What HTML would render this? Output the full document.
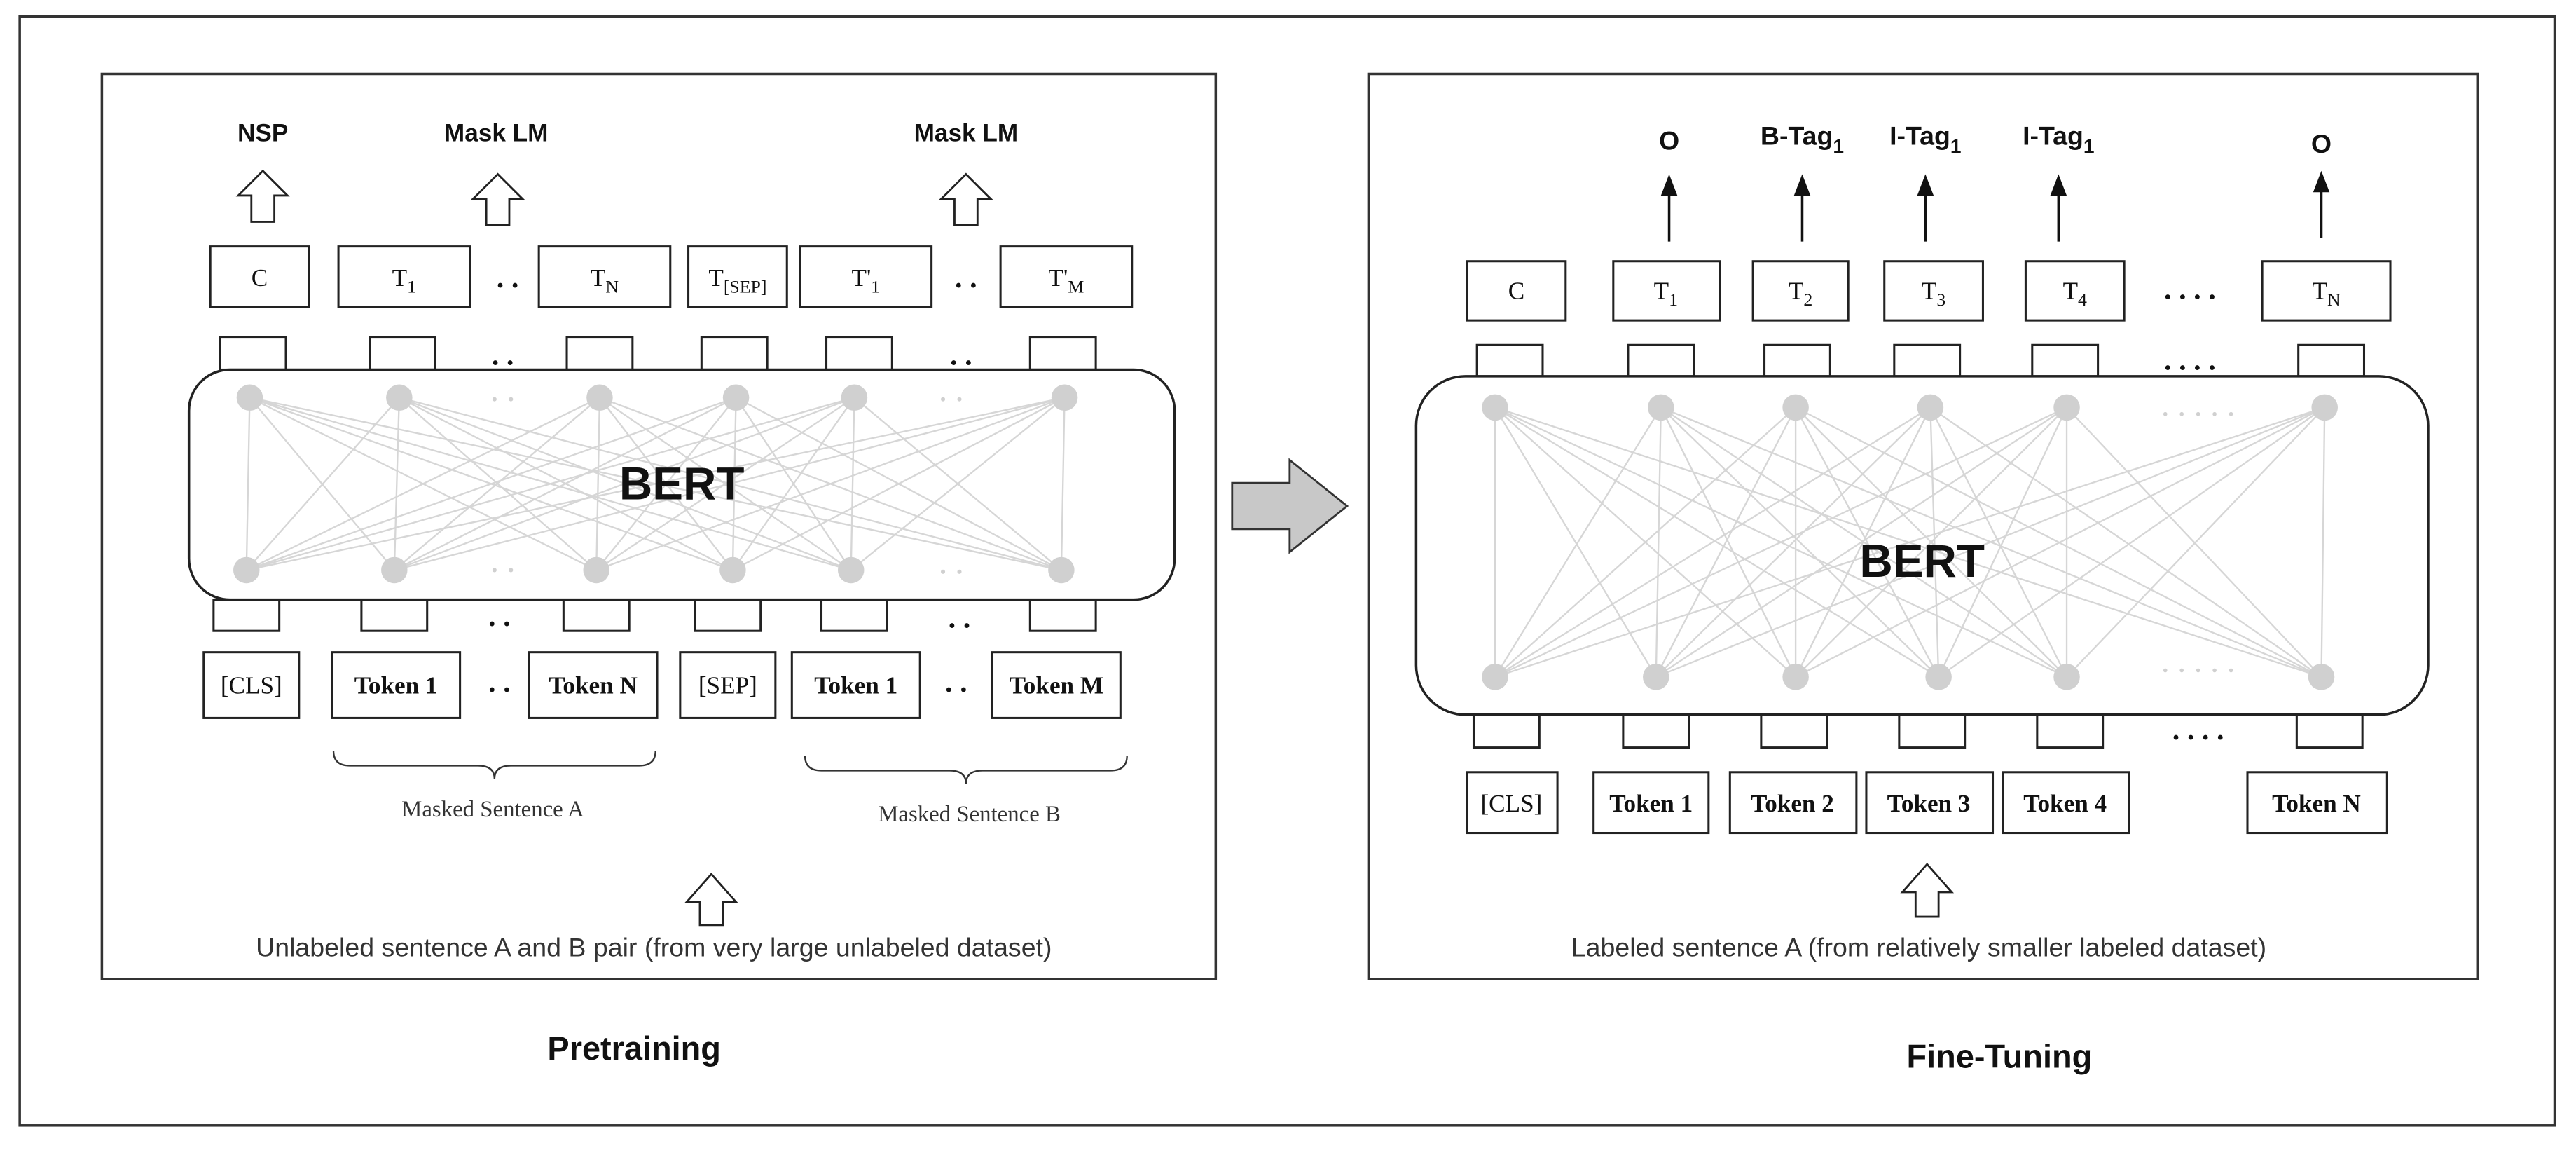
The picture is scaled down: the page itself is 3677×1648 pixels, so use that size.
<!DOCTYPE html>
<html><head><meta charset="utf-8"><style>
html,body{margin:0;padding:0;background:#fff;}
svg{display:block;}
.s{font-family:"Liberation Serif",serif;font-size:15px;fill:#111;}
.b{font-family:"Liberation Sans",sans-serif;font-weight:bold;fill:#111;}
.l{font-family:"Liberation Sans",sans-serif;fill:#333;}
</style></head><body>
<svg width="3677" height="1648" viewBox="0 0 1568 703" preserveAspectRatio="none" xmlns="http://www.w3.org/2000/svg">
<rect x="12" y="10" width="1543" height="675" fill="none" stroke="#333" stroke-width="1.5"/>
<rect x="62" y="45" width="678" height="551" fill="none" stroke="#333" stroke-width="1.5"/>
<rect x="833" y="45" width="675" height="551" fill="none" stroke="#333" stroke-width="1.5"/>
<path d="M750 294 H785 V280 L820 308 L785 336 V322 H750 Z" fill="#c8c8c8" stroke="#333" stroke-width="1.2"/>

<!-- LEFT network -->
<path fill="none" stroke="#d6d6d6" stroke-width="1" d="
M152 242 L150 347 M152 242 L240 347 M152 242 L363 347 M152 242 L446 347 M152 242 L518 347 M152 242 L646 347
M243 242 L150 347 M243 242 L240 347 M243 242 L363 347 M243 242 L446 347 M243 242 L518 347 M243 242 L646 347
M365 242 L150 347 M365 242 L240 347 M365 242 L363 347 M365 242 L446 347 M365 242 L518 347 M365 242 L646 347
M448 242 L150 347 M448 242 L240 347 M448 242 L363 347 M448 242 L446 347 M448 242 L518 347 M448 242 L646 347
M520 242 L150 347 M520 242 L240 347 M520 242 L363 347 M520 242 L446 347 M520 242 L518 347 M520 242 L646 347
M648 242 L150 347 M648 242 L240 347 M648 242 L363 347 M648 242 L446 347 M648 242 L518 347 M648 242 L646 347"/>
<g fill="#d0d0d0">
<circle cx="152" cy="242" r="8"/><circle cx="243" cy="242" r="8"/><circle cx="365" cy="242" r="8"/>
<circle cx="448" cy="242" r="8"/><circle cx="520" cy="242" r="8"/><circle cx="648" cy="242" r="8"/>
<circle cx="150" cy="347" r="8"/><circle cx="240" cy="347" r="8"/><circle cx="363" cy="347" r="8"/>
<circle cx="446" cy="347" r="8"/><circle cx="518" cy="347" r="8"/><circle cx="646" cy="347" r="8"/>
<circle cx="301" cy="243" r="1.3"/><circle cx="311" cy="243" r="1.3"/>
<circle cx="574" cy="243" r="1.3"/><circle cx="584" cy="243" r="1.3"/>
<circle cx="301" cy="347" r="1.3"/><circle cx="311" cy="347" r="1.3"/>
<circle cx="574" cy="348" r="1.3"/><circle cx="584" cy="348" r="1.3"/>
</g>

<!-- RIGHT network -->
<path fill="none" stroke="#d6d6d6" stroke-width="1" d="
M910 248 L910 412 M910 248 L1008 412 M910 248 L1093 412 M910 248 L1180 412 M910 248 L1258 412 M910 248 L1413 412
M1011 248 L910 412 M1011 248 L1008 412 M1011 248 L1093 412 M1011 248 L1180 412 M1011 248 L1258 412 M1011 248 L1413 412
M1093 248 L910 412 M1093 248 L1008 412 M1093 248 L1093 412 M1093 248 L1180 412 M1093 248 L1258 412 M1093 248 L1413 412
M1175 248 L910 412 M1175 248 L1008 412 M1175 248 L1093 412 M1175 248 L1180 412 M1175 248 L1258 412 M1175 248 L1413 412
M1258 248 L910 412 M1258 248 L1008 412 M1258 248 L1093 412 M1258 248 L1180 412 M1258 248 L1258 412 M1258 248 L1413 412
M1415 248 L910 412 M1415 248 L1008 412 M1415 248 L1093 412 M1415 248 L1180 412 M1415 248 L1258 412 M1415 248 L1413 412"/>
<g fill="#d0d0d0">
<circle cx="910" cy="248" r="8"/><circle cx="1011" cy="248" r="8"/><circle cx="1093" cy="248" r="8"/>
<circle cx="1175" cy="248" r="8"/><circle cx="1258" cy="248" r="8"/><circle cx="1415" cy="248" r="8"/>
<circle cx="910" cy="412" r="8"/><circle cx="1008" cy="412" r="8"/><circle cx="1093" cy="412" r="8"/>
<circle cx="1180" cy="412" r="8"/><circle cx="1258" cy="412" r="8"/><circle cx="1413" cy="412" r="8"/>
<circle cx="1318" cy="252" r="1.2"/><circle cx="1328" cy="252" r="1.2"/><circle cx="1338" cy="252" r="1.2"/><circle cx="1348" cy="252" r="1.2"/><circle cx="1358" cy="252" r="1.2"/>
<circle cx="1318" cy="408" r="1.2"/><circle cx="1328" cy="408" r="1.2"/><circle cx="1338" cy="408" r="1.2"/><circle cx="1348" cy="408" r="1.2"/><circle cx="1358" cy="408" r="1.2"/>
</g>

<!-- LEFT -->
<g class="b" font-size="15" text-anchor="middle">
<text x="160" y="86">NSP</text><text x="302" y="86">Mask LM</text><text x="588" y="86">Mask LM</text>
</g>
<g fill="#fff" stroke="#222" stroke-width="1.2">
<path d="M153 135 V119 H145 L160 104 L175 119 H167 V135 Z"/>
<path d="M296 137 V121 H288 L303 106 L318 121 H310 V137 Z"/>
<path d="M581 137 V121 H573 L588 106 L603 121 H595 V137 Z"/>
<path d="M426 563 V549 H418 L433 532 L448 549 H440 V563 Z"/>
<path d="M1166 558 V543 H1158 L1173 526 L1188 543 H1180 V558 Z"/>
</g>
<g fill="none" stroke="#222" stroke-width="1.3">
<rect x="128" y="150" width="60" height="37"/><rect x="206" y="150" width="80" height="37"/>
<rect x="328" y="150" width="80" height="37"/><rect x="419" y="150" width="60" height="37"/>
<rect x="487" y="150" width="80" height="37"/><rect x="609" y="150" width="80" height="37"/>
<rect x="134" y="205" width="40" height="20"/><rect x="225" y="205" width="40" height="20"/>
<rect x="345" y="205" width="40" height="20"/><rect x="427" y="205" width="40" height="20"/>
<rect x="503" y="205" width="40" height="20"/><rect x="627" y="205" width="40" height="20"/>
<rect x="130" y="365" width="40" height="19"/><rect x="220" y="365" width="40" height="19"/>
<rect x="343" y="365" width="40" height="19"/><rect x="423" y="365" width="40" height="19"/>
<rect x="500" y="365" width="40" height="19"/><rect x="627" y="365" width="40" height="19"/>
<rect x="124" y="397" width="58" height="40"/><rect x="202" y="397" width="78" height="40"/>
<rect x="322" y="397" width="78" height="40"/><rect x="414" y="397" width="58" height="40"/>
<rect x="482" y="397" width="78" height="40"/><rect x="604" y="397" width="78" height="40"/>
</g>
<rect x="115" y="225" width="600" height="140" rx="25" fill="none" stroke="#222" stroke-width="1.5"/>
<g class="s" text-anchor="middle">
<text x="158" y="174">C</text>
<text x="246" y="174">T<tspan font-size="11" dy="4">1</tspan></text>
<text x="368" y="174">T<tspan font-size="11" dy="4">N</tspan></text>
<text x="449" y="174">T<tspan font-size="11" dy="4">[SEP]</tspan></text>
<text x="527" y="174">T'<tspan font-size="11" dy="4">1</tspan></text>
<text x="649" y="174">T'<tspan font-size="11" dy="4">M</tspan></text>
<text x="153" y="422">[CLS]</text><text x="241" y="422" font-weight="bold">Token 1</text>
<text x="361" y="422" font-weight="bold">Token N</text><text x="443" y="422">[SEP]</text>
<text x="521" y="422" font-weight="bold">Token 1</text><text x="643" y="422" font-weight="bold">Token M</text>
<text x="309" y="175" font-size="18" font-weight="bold">. .</text><text x="588" y="175" font-size="18" font-weight="bold">. .</text>
<text x="306" y="222" font-size="18" font-weight="bold">. .</text><text x="585" y="222" font-size="18" font-weight="bold">. .</text>
<text x="304" y="381" font-size="18" font-weight="bold">. .</text><text x="584" y="382" font-size="18" font-weight="bold">. .</text>
<text x="304" y="421" font-size="18" font-weight="bold">. .</text><text x="582" y="421" font-size="18" font-weight="bold">. .</text>
<text x="300" y="497" font-size="14" fill="#333">Masked Sentence A</text>
<text x="590" y="500" font-size="14" fill="#333">Masked Sentence B</text>
</g>
<path d="M203 457 Q203 466 213 466 H291 Q301 466 301 474 Q301 466 311 466 H389 Q399 466 399 457" fill="none" stroke="#333" stroke-width="1"/>
<path d="M490 460 Q490 469 500 469 H578 Q588 469 588 477 Q588 469 598 469 H676 Q686 469 686 460" fill="none" stroke="#333" stroke-width="1"/>
<text class="l" x="398" y="582" font-size="16" text-anchor="middle">Unlabeled sentence A and B pair (from very large unlabeled dataset)</text>
<text class="b" x="386" y="645" font-size="20" text-anchor="middle">Pretraining</text>
<text class="b" x="415" y="304" font-size="28" text-anchor="middle">BERT</text>

<!-- RIGHT -->
<g class="b" font-size="16" text-anchor="middle">
<text x="1016" y="91">O</text>
<text x="1097" y="88">B-Tag<tspan font-size="12" dy="5">1</tspan></text>
<text x="1172" y="88">I-Tag<tspan font-size="12" dy="5">1</tspan></text>
<text x="1253" y="88">I-Tag<tspan font-size="12" dy="5">1</tspan></text>
<text x="1413" y="93">O</text>
</g>
<g stroke="#111" stroke-width="1.5">
<line x1="1016" y1="147" x2="1016" y2="115"/><line x1="1097" y1="147" x2="1097" y2="115"/>
<line x1="1172" y1="147" x2="1172" y2="115"/><line x1="1253" y1="147" x2="1253" y2="115"/>
<line x1="1413" y1="145" x2="1413" y2="113"/>
</g>
<g fill="#111">
<path d="M1016 106 L1011 119 L1021 119Z"/><path d="M1097 106 L1092 119 L1102 119Z"/>
<path d="M1172 106 L1167 119 L1177 119Z"/><path d="M1253 106 L1248 119 L1258 119Z"/>
<path d="M1413 104 L1408 117 L1418 117Z"/>
</g>
<g fill="none" stroke="#222" stroke-width="1.3">
<rect x="893" y="159" width="60" height="36"/><rect x="982" y="159" width="65" height="36"/>
<rect x="1067" y="159" width="58" height="36"/><rect x="1147" y="159" width="60" height="36"/>
<rect x="1233" y="159" width="60" height="36"/><rect x="1377" y="159" width="78" height="36"/>
<rect x="899" y="210" width="40" height="19"/><rect x="991" y="210" width="40" height="19"/>
<rect x="1074" y="210" width="40" height="19"/><rect x="1153" y="210" width="40" height="19"/>
<rect x="1237" y="210" width="40" height="19"/><rect x="1399" y="210" width="40" height="19"/>
<rect x="897" y="435" width="40" height="20"/><rect x="988" y="435" width="40" height="20"/>
<rect x="1072" y="435" width="40" height="20"/><rect x="1156" y="435" width="40" height="20"/>
<rect x="1240" y="435" width="40" height="20"/><rect x="1398" y="435" width="40" height="20"/>
<rect x="893" y="470" width="55" height="37"/><rect x="970" y="470" width="70" height="37"/>
<rect x="1053" y="470" width="77" height="37"/><rect x="1136" y="470" width="77" height="37"/>
<rect x="1219" y="470" width="77" height="37"/><rect x="1368" y="470" width="85" height="37"/>
</g>
<rect x="862" y="229" width="616" height="206" rx="30" fill="none" stroke="#222" stroke-width="1.5"/>
<g class="s" text-anchor="middle">
<text x="923" y="182">C</text>
<text x="1014" y="182">T<tspan font-size="11" dy="4">1</tspan></text>
<text x="1096" y="182">T<tspan font-size="11" dy="4">2</tspan></text>
<text x="1177" y="182">T<tspan font-size="11" dy="4">3</tspan></text>
<text x="1263" y="182">T<tspan font-size="11" dy="4">4</tspan></text>
<text x="1416" y="182">T<tspan font-size="11" dy="4">N</tspan></text>
<text x="920" y="494">[CLS]</text><text x="1005" y="494" font-weight="bold">Token 1</text>
<text x="1091" y="494" font-weight="bold">Token 2</text><text x="1174" y="494" font-weight="bold">Token 3</text>
<text x="1257" y="494" font-weight="bold">Token 4</text><text x="1410" y="494" font-weight="bold">Token N</text>
<text x="1333" y="182" font-size="18" font-weight="bold">. . . .</text>
<text x="1333" y="225" font-size="18" font-weight="bold">. . . .</text>
<text x="1338" y="450" font-size="18" font-weight="bold">. . . .</text>
</g>
<text class="l" x="1168" y="582" font-size="16" text-anchor="middle">Labeled sentence A (from relatively smaller labeled dataset)</text>
<text class="b" x="1217" y="650" font-size="20" text-anchor="middle">Fine-Tuning</text>
<text class="b" x="1170" y="351" font-size="28" text-anchor="middle">BERT</text>
</svg>
</body></html>
